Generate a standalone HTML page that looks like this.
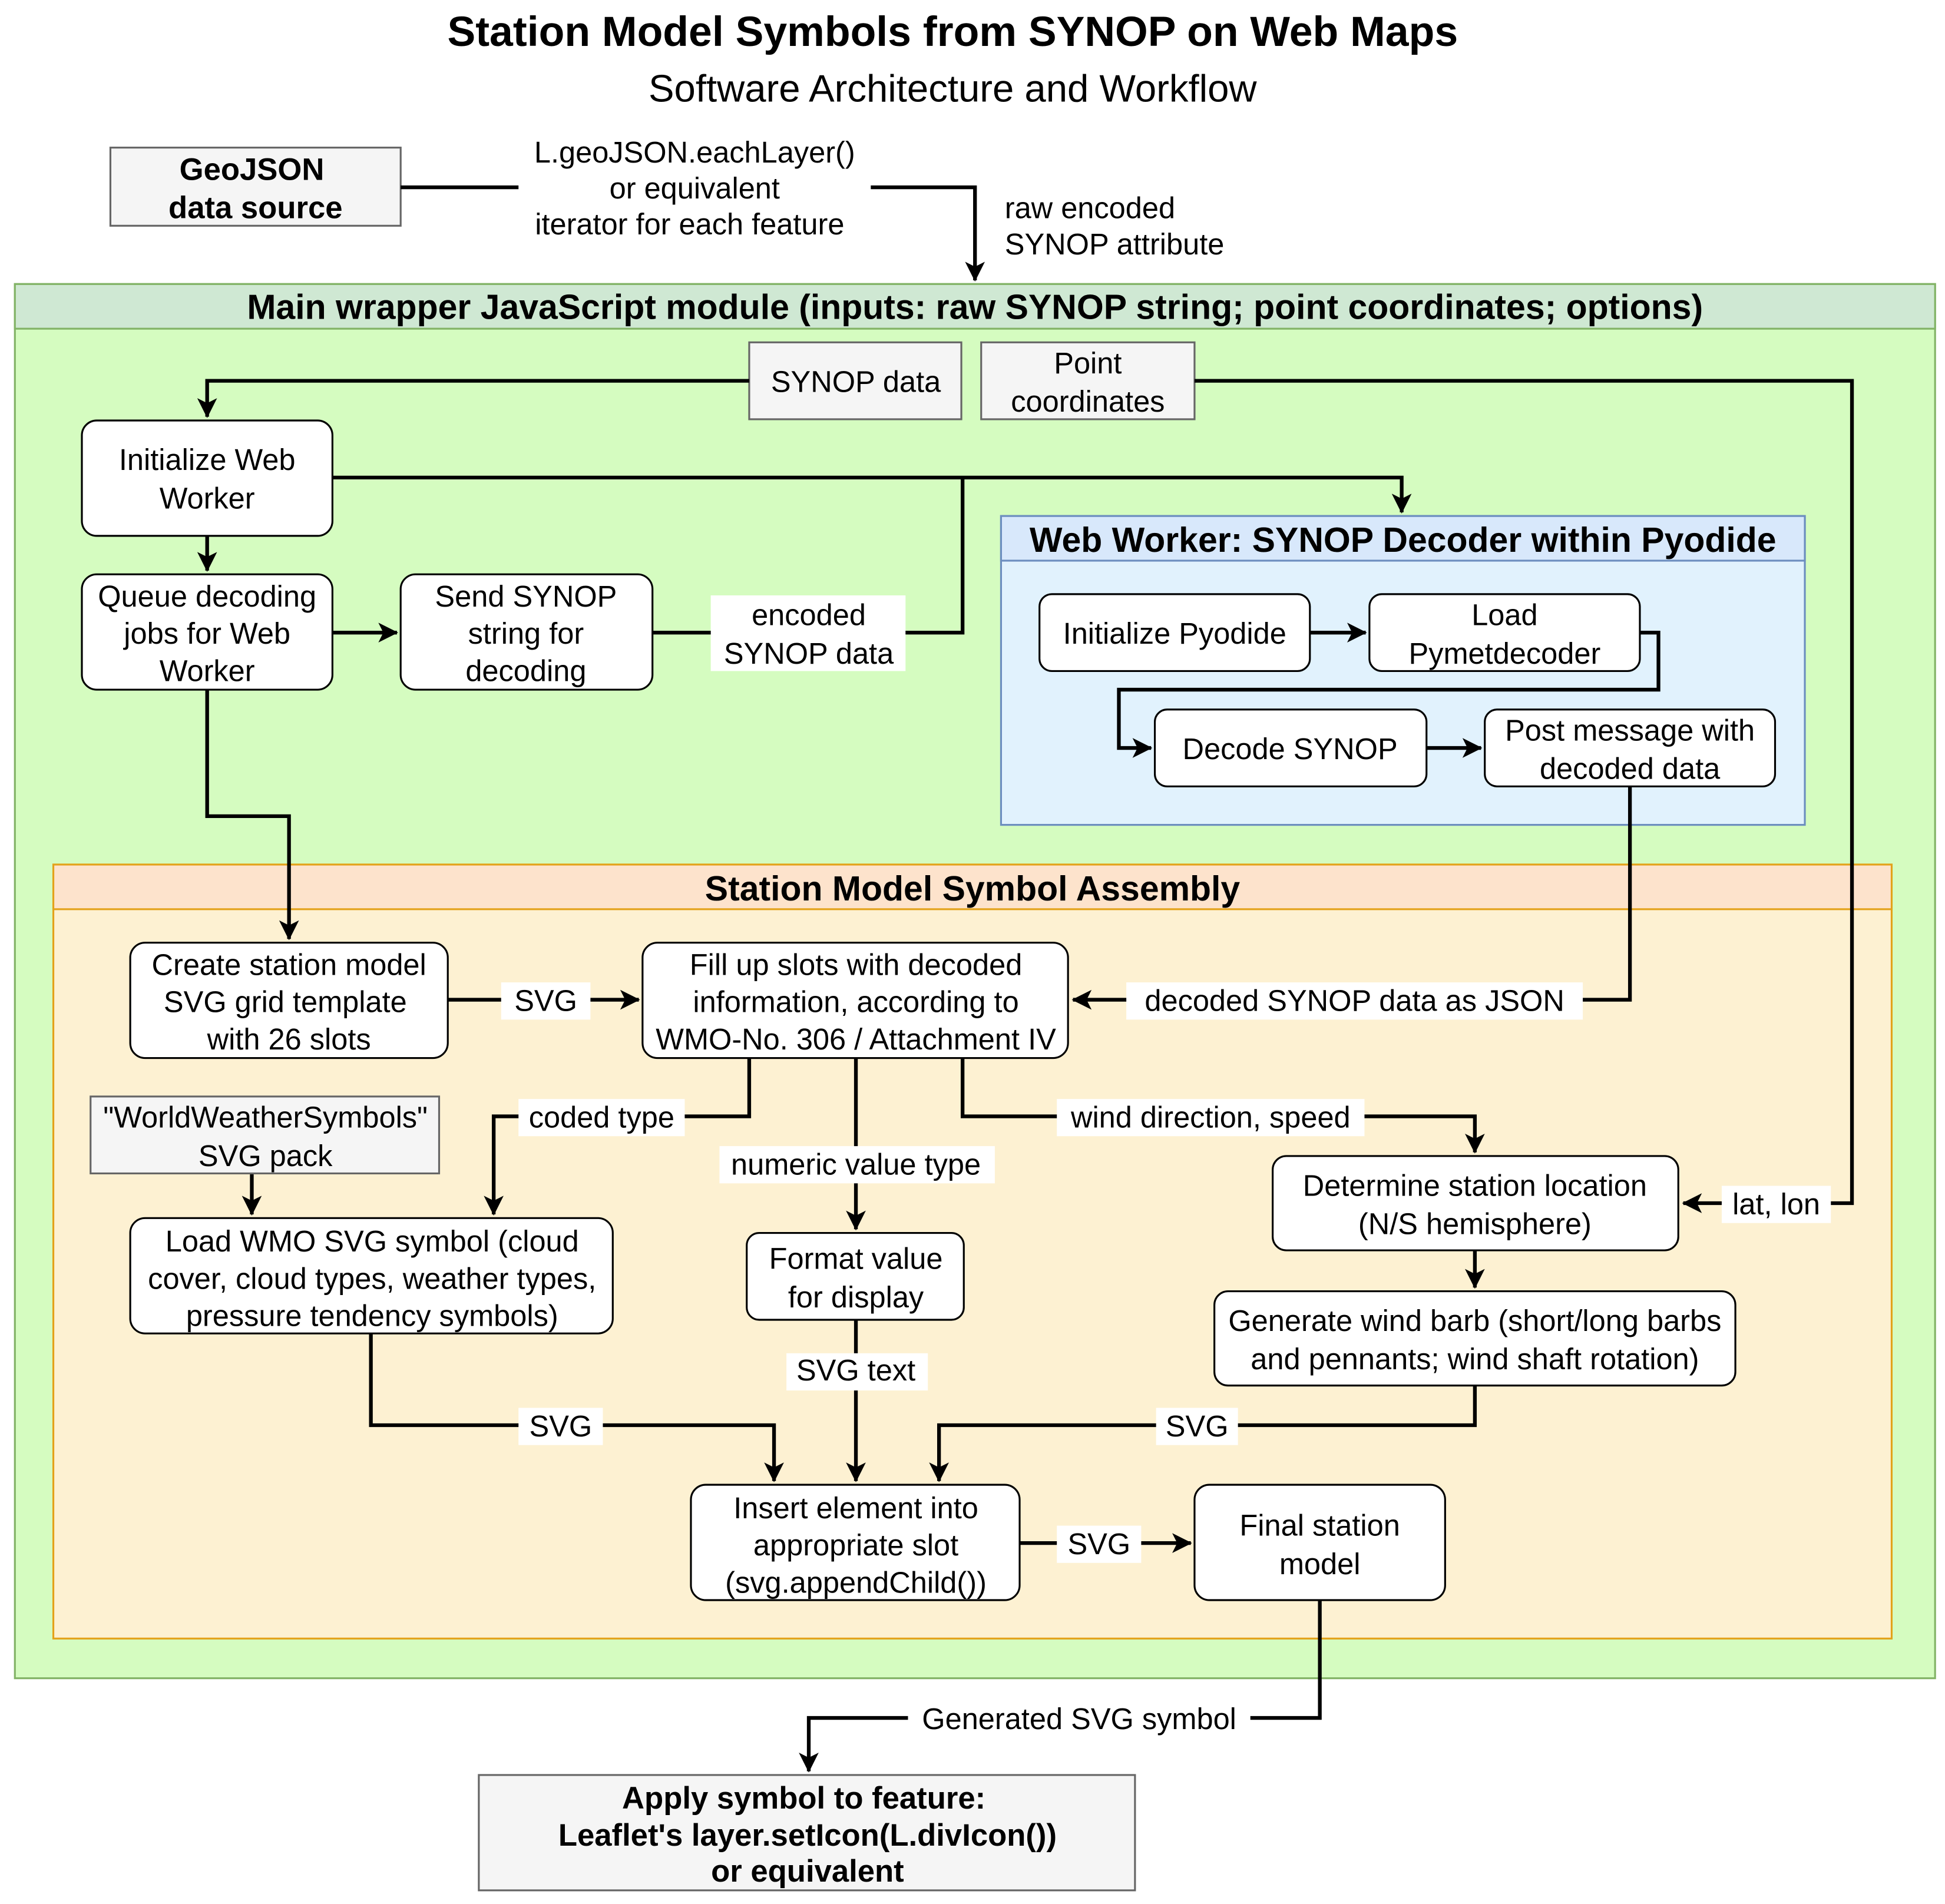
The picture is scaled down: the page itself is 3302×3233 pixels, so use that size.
<!DOCTYPE html>
<html><head><meta charset="utf-8"><style>
html,body{margin:0;padding:0;background:#fff}
svg{display:block}
text{font-family:"Liberation Sans",Arial,sans-serif;font-size:24px;fill:#000}
.b{font-weight:bold}
</style></head><body>
<svg width="3302" height="3233" viewBox="0 0 1568 1535" preserveAspectRatio="none" xmlns="http://www.w3.org/2000/svg">
<defs>
<marker id="m" viewBox="0 0 16 16" markerWidth="16" markerHeight="16" refX="15" refY="8" orient="auto" markerUnits="userSpaceOnUse"><path d="M0,0 L16,8 L0,16 L4,8 Z" fill="#000"/></marker></defs>
<rect width="1568" height="1535" fill="#fff"/>
<text x="768" y="37" text-anchor="middle" class="b" style="font-size:34px">Station Model Symbols from SYNOP on Web Maps</text>
<text x="768" y="82" text-anchor="middle" style="font-size:31px">Software Architecture and Workflow</text>

<rect x="89" y="119" width="234" height="63" fill="#f5f5f5" stroke="#666" stroke-width="1.5"/>
<text x="203" y="145" text-anchor="middle" class="b" style="font-size:25px">GeoJSON</text>
<text x="206" y="176" text-anchor="middle" class="b" style="font-size:25px">data source</text>
<g fill="none" stroke="#000" stroke-width="3">
<path d="M323,151 H418"/><path d="M702,151 H786 V226" marker-end="url(#m)"/>
</g>
<text x="560" y="131" text-anchor="middle">L.geoJSON.eachLayer()</text>
<text x="560" y="160" text-anchor="middle">or equivalent</text>
<text x="556" y="189" text-anchor="middle">iterator for each feature</text>
<text x="810" y="176">raw encoded</text>
<text x="810" y="205">SYNOP attribute</text>

<rect x="12" y="229" width="1548" height="1124" fill="#d5fcc0" stroke="#82b366" stroke-width="1.5"/>
<rect x="12" y="229" width="1548" height="36" fill="#cfe8d3" stroke="#82b366" stroke-width="1.5"/>
<text x="786" y="257" text-anchor="middle" class="b" style="font-size:28px">Main wrapper JavaScript module (inputs: raw SYNOP string; point coordinates; options)</text>

<rect x="604" y="276" width="171" height="62" fill="#f5f5f5" stroke="#666" stroke-width="1.5"/>
<text x="690" y="316" text-anchor="middle">SYNOP data</text>
<rect x="791" y="276" width="172" height="62" fill="#f5f5f5" stroke="#666" stroke-width="1.5"/>
<text x="877" y="301" text-anchor="middle">Point</text>
<text x="877" y="332" text-anchor="middle">coordinates</text>

<rect x="807" y="416" width="648" height="249" fill="#e1f2fd" stroke="#6c8ebf" stroke-width="1.5"/>
<rect x="807" y="416" width="648" height="36" fill="#d8e8fb" stroke="#6c8ebf" stroke-width="1.5"/>
<text x="1131" y="445" text-anchor="middle" class="b" style="font-size:28px">Web Worker: SYNOP Decoder within Pyodide</text>

<rect x="43" y="697" width="1482" height="624" fill="#fdf1d2" stroke="#e3a21a" stroke-width="1.5"/>
<rect x="43" y="697" width="1482" height="36" fill="#fde3cc" stroke="#e3a21a" stroke-width="1.5"/>
<text x="784" y="726" text-anchor="middle" class="b" style="font-size:28px">Station Model Symbol Assembly</text>

<g fill="none" stroke="#000" stroke-width="3">
<path d="M604,307 H167 V336" marker-end="url(#m)"/>
<path d="M963,307 H1493 V970 H1357" marker-end="url(#m)"/>
<path d="M268,385 H1130 V413" marker-end="url(#m)"/>
<path d="M167,432 V460" marker-end="url(#m)"/>
<path d="M268,510 H320" marker-end="url(#m)"/>
<path d="M526,510 H776 V385"/>
<path d="M167,556 V658 H233 V757" marker-end="url(#m)"/>
<path d="M1056,510 H1101" marker-end="url(#m)"/>
<path d="M1322,510 H1337 V556 H902 V603 H928" marker-end="url(#m)"/>
<path d="M1150,603 H1194" marker-end="url(#m)"/>
<path d="M1314,634 V806 H865" marker-end="url(#m)"/>
<path d="M361,806 H515" marker-end="url(#m)"/>
<path d="M604,853 V900 H398 V979" marker-end="url(#m)"/>
<path d="M690,853 V991" marker-end="url(#m)"/>
<path d="M776,853 V900 H1189 V929" marker-end="url(#m)"/>
<path d="M203,946 V979" marker-end="url(#m)"/>
<path d="M1189,1008 V1038" marker-end="url(#m)"/>
<path d="M299,1075 V1149 H624 V1194" marker-end="url(#m)"/>
<path d="M690,1064 V1194" marker-end="url(#m)"/>
<path d="M1189,1117 V1149 H757 V1194" marker-end="url(#m)"/>
<path d="M822,1244 H960" marker-end="url(#m)"/>
<path d="M1064,1290 V1385 H652 V1428" marker-end="url(#m)"/>
</g>

<g fill="#fff" stroke="none">
<rect x="573" y="480" width="157" height="61"/>
<rect x="404" y="792" width="72" height="30"/>
<rect x="908" y="792" width="368" height="30"/>
<rect x="418" y="886" width="134" height="30"/>
<rect x="580" y="924" width="222" height="30"/>
<rect x="852" y="886" width="248" height="30"/>
<rect x="1388" y="956" width="88" height="30"/>
<rect x="418" y="1135" width="68" height="30"/>
<rect x="634" y="1091" width="114" height="30"/>
<rect x="932" y="1135" width="66" height="30"/>
<rect x="852" y="1230" width="68" height="30"/>
<rect x="732" y="1371" width="276" height="30"/>
</g>
<text x="652" y="504" text-anchor="middle">encoded</text>
<text x="652" y="535" text-anchor="middle">SYNOP data</text>
<text x="440" y="815" text-anchor="middle">SVG</text>
<text x="1092" y="815" text-anchor="middle">decoded SYNOP data as JSON</text>
<text x="485" y="909" text-anchor="middle">coded type</text>
<text x="690" y="947" text-anchor="middle">numeric value type</text>
<text x="976" y="909" text-anchor="middle">wind direction, speed</text>
<text x="1432" y="979" text-anchor="middle">lat, lon</text>
<text x="452" y="1158" text-anchor="middle">SVG</text>
<text x="690" y="1113" text-anchor="middle">SVG text</text>
<text x="965" y="1158" text-anchor="middle">SVG</text>
<text x="886" y="1253" text-anchor="middle">SVG</text>
<text x="870" y="1394" text-anchor="middle">Generated SVG symbol</text>

<g fill="#fff" stroke="#000" stroke-width="1.5">
<rect x="66" y="339" width="202" height="93" rx="12"/>
<rect x="66" y="463" width="202" height="93" rx="12"/>
<rect x="323" y="463" width="203" height="93" rx="12"/>
<rect x="838" y="479" width="218" height="62" rx="10"/>
<rect x="1104" y="479" width="218" height="62" rx="10"/>
<rect x="931" y="572" width="219" height="62" rx="10"/>
<rect x="1197" y="572" width="234" height="62" rx="10"/>
<rect x="105" y="760" width="256" height="93" rx="12"/>
<rect x="518" y="760" width="343" height="93" rx="12"/>
<rect x="105" y="982" width="389" height="93" rx="12"/>
<rect x="602" y="994" width="175" height="70" rx="10"/>
<rect x="1026" y="932" width="327" height="76" rx="11"/>
<rect x="979" y="1041" width="420" height="76" rx="11"/>
<rect x="557" y="1197" width="265" height="93" rx="12"/>
<rect x="963" y="1197" width="202" height="93" rx="12"/>
</g>
<rect x="73" y="884" width="281" height="62" fill="#f5f5f5" stroke="#666" stroke-width="1.5"/>
<rect x="386" y="1431" width="529" height="93" fill="#f5f5f5" stroke="#666" stroke-width="1.5"/>

<g text-anchor="middle">
<text x="167" y="379">Initialize Web</text><text x="167" y="410">Worker</text>
<text x="167" y="489">Queue decoding</text><text x="167" y="519">jobs for Web</text><text x="167" y="549">Worker</text>
<text x="424" y="489">Send SYNOP</text><text x="424" y="519">string for</text><text x="424" y="549">decoding</text>
<text x="947" y="519">Initialize Pyodide</text>
<text x="1213" y="504">Load</text><text x="1213" y="535">Pymetdecoder</text>
<text x="1040" y="612">Decode SYNOP</text>
<text x="1314" y="597">Post message with</text><text x="1314" y="628">decoded data</text>
<text x="233" y="786">Create station model</text><text x="230" y="816">SVG grid template</text><text x="233" y="846">with 26 slots</text>
<text x="690" y="786">Fill up slots with decoded</text><text x="690" y="816">information, according to</text><text x="690" y="846">WMO-No. 306 / Attachment IV</text>
<text x="214" y="909">"WorldWeatherSymbols"</text><text x="214" y="940">SVG pack</text>
<text x="300" y="1009">Load WMO SVG symbol (cloud</text><text x="300" y="1039">cover, cloud types, weather types,</text><text x="300" y="1069">pressure tendency symbols)</text>
<text x="690" y="1023">Format value</text><text x="690" y="1054">for display</text>
<text x="1189" y="964">Determine station location</text><text x="1189" y="995">(N/S hemisphere)</text>
<text x="1189" y="1073">Generate wind barb (short/long barbs</text><text x="1189" y="1104">and pennants; wind shaft rotation)</text>
<text x="690" y="1224">Insert element into</text><text x="690" y="1254">appropriate slot</text><text x="690" y="1284">(svg.appendChild())</text>
<text x="1064" y="1238">Final station</text><text x="1064" y="1269">model</text>
<text class="b" x="648" y="1458" style="font-size:25px">Apply symbol to feature:</text>
<text class="b" x="651" y="1488" style="font-size:25px">Leaflet's layer.setIcon(L.divIcon())</text>
<text class="b" x="651" y="1517" style="font-size:25px">or equivalent</text>
</g>
</svg>
</body></html>
